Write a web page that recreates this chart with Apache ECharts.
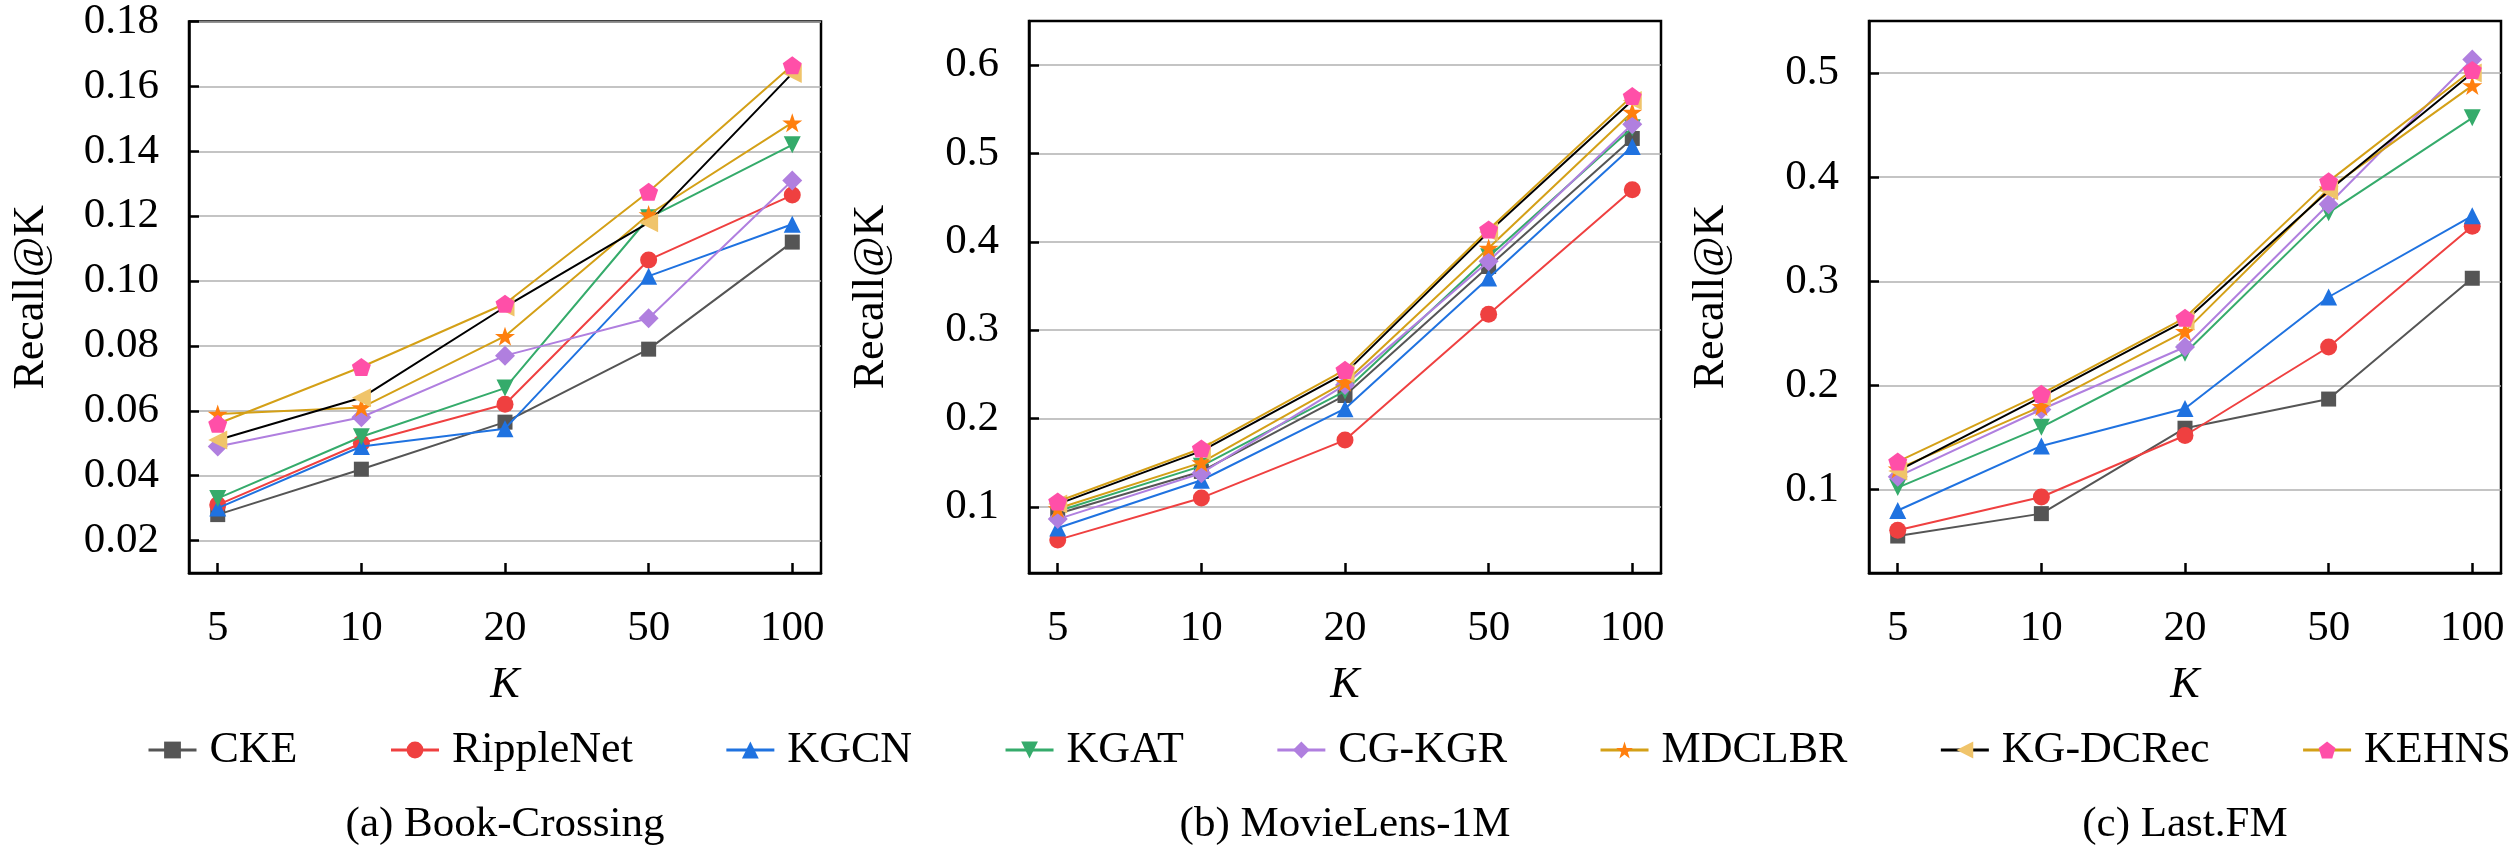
<!DOCTYPE html>
<html>
<head>
<meta charset="utf-8">
<title>Recall@K</title>
<script src="https://cdn.jsdelivr.net/npm/echarts@6/dist/echarts.min.js"></script>
<style>
  html, body { margin: 0; padding: 0; background: #fff; }
  #chart { width: 2520px; height: 855px; }
</style>
</head>
<body>
<div id="chart"></div>
<script>
;(function () {
  'use strict';

  // ---- data ----
  var kLabels = ['5', '10', '20', '50', '100'];
  var methods = ['CKE', 'RippleNet', 'KGCN', 'KGAT', 'CG-KGR', 'MDCLBR', 'KG-DCRec', 'KEHNS'];
  var datasets = ['(a) Book-Crossing', '(b) MovieLens-1M', '(c) Last.FM'];

  // rows follow the order of `methods`
  var bookCrossing = [
    [0.028, 0.042, 0.0565, 0.079, 0.112],
    [0.031, 0.050, 0.062, 0.1065, 0.1265],
    [0.030, 0.049, 0.0545, 0.1015, 0.1175],
    [0.033, 0.052, 0.067, 0.1195, 0.142],
    [0.049, 0.058, 0.077, 0.0885, 0.131],
    [0.059, 0.061, 0.083, 0.1205, 0.1488],
    [0.051, 0.064, 0.092, 0.118, 0.164],
    [0.056, 0.0735, 0.093, 0.1275, 0.1665]
  ];
  var movieLens = [
    [0.092, 0.140, 0.226, 0.372, 0.517],
    [0.0625, 0.110, 0.1755, 0.318, 0.459],
    [0.076, 0.130, 0.211, 0.359, 0.508],
    [0.095, 0.146, 0.231, 0.383, 0.529],
    [0.086, 0.138, 0.238, 0.378, 0.533],
    [0.098, 0.150, 0.241, 0.393, 0.547],
    [0.103, 0.163, 0.251, 0.411, 0.560],
    [0.106, 0.166, 0.255, 0.414, 0.565]
  ];
  var lastFm = [
    [0.0555, 0.077, 0.159, 0.187, 0.303],
    [0.061, 0.093, 0.152, 0.237, 0.353],
    [0.080, 0.142, 0.178, 0.285, 0.363],
    [0.102, 0.160, 0.231, 0.366, 0.457],
    [0.1125, 0.177, 0.237, 0.374, 0.513],
    [0.120, 0.180, 0.252, 0.389, 0.488],
    [0.118, 0.189, 0.262, 0.387, 0.500],
    [0.127, 0.192, 0.265, 0.396, 0.503]
  ];

  var yTicksA = [0.02, 0.04, 0.06, 0.08, 0.10, 0.12, 0.14, 0.16, 0.18];
  var yTicksB = [0.1, 0.2, 0.3, 0.4, 0.5, 0.6];
  var yTicksC = [0.1, 0.2, 0.3, 0.4, 0.5];

  // ---- styles ----
  var FONT = "'Liberation Serif', 'Times New Roman', Tinos, 'DejaVu Serif', serif";
  var STAR = 'path://M50,0 L61.8,35.4 L98.6,35.4 L68.8,57.3 L80,92.7 L50,70.8 L20,92.7 L31.2,57.3 L1.4,35.4 L38.2,35.4 Z';
  var PENTAGON = 'path://M50,0 L97.6,34.5 L79.4,90.5 L20.6,90.5 L2.4,34.5 Z';

  var styles = [
    { line: '#555555', mark: '#555555', symbol: 'rect', size: 15, rotate: 0 },
    { line: '#ef4040', mark: '#ef4040', symbol: 'circle', size: 17, rotate: 0 },
    { line: '#1f72e0', mark: '#1f72e0', symbol: 'triangle', size: 17, rotate: 0 },
    { line: '#35ab6b', mark: '#35ab6b', symbol: 'triangle', size: 17, rotate: 180 },
    { line: '#b07fdf', mark: '#b07fdf', symbol: 'diamond', size: 20, rotate: 0 },
    { line: '#d4a017', mark: '#ff7f0e', symbol: STAR, size: 20, rotate: 0 },
    { line: '#000000', mark: '#f0c46a', symbol: 'triangle', size: 19, rotate: 90 },
    { line: '#d4a017', mark: '#ff4fa8', symbol: PENTAGON, size: 19, rotate: 0 }
  ];

  var panels = [
    { data: bookCrossing, ticks: yTicksA, min: 0.01, max: 0.18, digits: 2 },
    { data: movieLens, ticks: yTicksB, min: 0.025, max: 0.65, digits: 1 },
    { data: lastFm, ticks: yTicksC, min: 0.02, max: 0.55, digits: 1 }
  ];

  var gridLefts = [189, 1029, 1869];
  var GRID_TOP = 21;
  var GRID_W = 632;
  var GRID_H = 552;
  var tickIdx = kLabels.map(function (k, i) { return i; });

  var chart = echarts.init(document.getElementById('chart'));

  var grids = [], xAxes = [], yAxes = [], series = [], graphics = [];

  panels.forEach(function (p, pi) {
    grids.push({
      left: gridLefts[pi],
      top: GRID_TOP,
      width: GRID_W,
      height: GRID_H,
      show: true,
      borderColor: '#000',
      borderWidth: 2.5,
      backgroundColor: 'transparent'
    });

    xAxes.push({
      type: 'value',
      gridIndex: pi,
      min: -0.2,
      max: kLabels.length - 0.8,
      name: 'K',
      nameLocation: 'middle',
      nameGap: 90,
      nameTextStyle: { fontFamily: FONT, fontSize: 44, fontStyle: 'italic', color: '#000' },
      axisLine: { show: true, onZero: false, lineStyle: { color: '#000', width: 2.5 } },
      axisTick: { show: true, inside: true, length: 10, customValues: tickIdx, lineStyle: { color: '#000', width: 2.5 } },
      axisLabel: {
        customValues: tickIdx,
        margin: 34,
        fontFamily: FONT,
        fontSize: 43,
        color: '#000',
        formatter: function (v) { return kLabels[Math.round(v)]; }
      },
      splitLine: { show: false }
    });

    yAxes.push({
      type: 'value',
      gridIndex: pi,
      min: p.min,
      max: p.max,
      name: 'Recall@K',
      nameLocation: 'middle',
      nameGap: 136,
      nameTextStyle: { fontFamily: FONT, fontSize: 44, color: '#000' },
      axisLine: { show: true, onZero: false, lineStyle: { color: '#000', width: 2.5 } },
      axisTick: { show: true, inside: true, length: 10, customValues: p.ticks, lineStyle: { color: '#000', width: 2.5 } },
      axisLabel: {
        customValues: p.ticks,
        margin: 30,
        fontFamily: FONT,
        fontSize: 43,
        lineHeight: 38,
        color: '#000',
        formatter: function (v) { return v.toFixed(p.digits); }
      },
      splitLine: { show: true, lineStyle: { color: '#b0b0b0', width: 1.6 } }
    });

    p.data.forEach(function (row, mi) {
      var s = styles[mi];
      series.push({
        type: 'line',
        name: methods[mi],
        xAxisIndex: pi,
        yAxisIndex: pi,
        data: row.map(function (v, i) { return [i, v]; }),
        symbol: s.symbol,
        symbolSize: s.size,
        symbolRotate: s.rotate,
        symbolKeepAspect: true,
        showAllSymbol: true,
        lineStyle: { color: s.line, width: 2 },
        itemStyle: { color: s.mark, borderWidth: 0 },
        emphasis: { disabled: true },
        z: 2 + mi
      });
    });

    graphics.push({
      type: 'text',
      x: gridLefts[pi] + GRID_W / 2,
      y: 825,
      style: {
        text: datasets[pi],
        fontFamily: FONT,
        fontSize: 43,
        fill: '#000',
        textAlign: 'center',
        textVerticalAlign: 'middle'
      }
    });
  });

  chart.setOption({
    animation: false,
    backgroundColor: '#fff',
    textStyle: { fontFamily: FONT },
    grid: grids,
    xAxis: xAxes,
    yAxis: yAxes,
    series: series,
    graphic: graphics,
    legend: {
      data: methods,
      left: 147,
      top: 728,
      width: 2373,
      padding: 0,
      itemWidth: 48,
      itemHeight: 21,
      itemGap: 92,
      selectedMode: false,
      lineStyle: { width: 3 },
      textStyle: { fontFamily: FONT, fontSize: 44, color: '#000', padding: [0, 0, 0, 8] }
    }
  });
})();
</script>
</body>
</html>
